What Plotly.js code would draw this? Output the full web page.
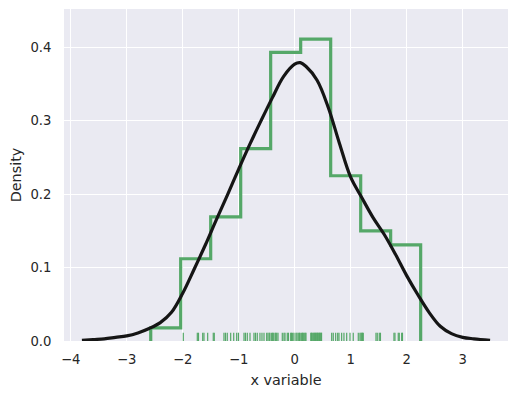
<!DOCTYPE html>
<html>
<head>
<meta charset="utf-8">
<script src="https://cdn.plot.ly/plotly-3.0.1.min.js"></script>
<style>html,body{margin:0;padding:0;background:#fff;}#chart{width:518px;height:396px;}</style>
</head>
<body>
<div id="chart"></div>
<script>
// Histogram (step) bin edges and densities
const binEdges = [-2.571, -2.036, -1.500, -0.964, -0.429, 0.107, 0.643, 1.179, 1.714, 2.250];
const binDensity = [0.018, 0.112, 0.169, 0.262, 0.393, 0.411, 0.225, 0.150, 0.131];

// KDE curve
const kdeX = [-3.80, -3.60, -3.40, -3.20, -3.00, -2.80, -2.60, -2.40, -2.20, -2.00, -1.80, -1.60, -1.40, -1.20, -1.00, -0.80, -0.60, -0.40, -0.20, 0.00, 0.10, 0.20, 0.40, 0.60, 0.80, 1.00, 1.20, 1.40, 1.60, 1.80, 2.00, 2.20, 2.40, 2.60, 2.80, 3.00, 3.20, 3.49];
const kdeY = [0.001, 0.002, 0.003, 0.005, 0.007, 0.011, 0.017, 0.025, 0.039, 0.065, 0.097, 0.130, 0.165, 0.199, 0.234, 0.268, 0.300, 0.331, 0.360, 0.377, 0.379, 0.374, 0.355, 0.318, 0.269, 0.223, 0.195, 0.168, 0.145, 0.118, 0.089, 0.063, 0.039, 0.020, 0.010, 0.005, 0.003, 0.001];

// Rug observations
const rugValues = [
  -2.571,
  -1.989, -1.739, -1.718, -1.643, -1.620, -1.554,
  -1.454, -1.436, -1.263, -1.236, -1.204, -1.143, -1.089, -1.036, -1.004,
  -0.905, -0.879, -0.846, -0.798, -0.727, -0.700, -0.668, -0.620, -0.584, -0.548, -0.500, -0.477, -0.454, -0.441,
  -0.411, -0.393, -0.382, -0.352, -0.339, -0.321, -0.298, -0.221, -0.191, -0.173, -0.132, -0.111, -0.071, -0.057, -0.036, -0.013, 0.023, 0.041, 0.064, 0.086, 0.098,
  0.125, 0.139, 0.154, 0.171, 0.189, 0.202, 0.288, 0.300, 0.314, 0.332, 0.345, 0.357, 0.370, 0.382, 0.395, 0.407, 0.420, 0.432, 0.445, 0.457, 0.470, 0.480,
  0.661, 0.689, 0.732, 0.768, 0.791, 0.839, 0.880, 0.929, 0.988, 1.046, 1.136, 1.166,
  1.184, 1.198, 1.211, 1.225, 1.452, 1.475, 1.511, 1.532,
  1.773, 1.791, 1.850, 1.868, 1.911, 1.925, 2.250
];

const xTicks = [-4, -3, -2, -1, 0, 1, 2, 3];
const yTicks = [0.0, 0.1, 0.2, 0.3, 0.4];

// build step outline
const stepX = [binEdges[0]], stepY = [0];
for (let i = 0; i < binDensity.length; i++) {
  stepX.push(binEdges[i], binEdges[i + 1]);
  stepY.push(binDensity[i], binDensity[i]);
}
stepX.push(binEdges[binEdges.length - 1]); stepY.push(0);

// rug segments
const rugX = [], rugY = [];
rugValues.forEach(v => { rugX.push(v, v, null); rugY.push(0, 0.025, null); });

const green = '#55a868';
const traces = [
  {x: stepX, y: stepY, type: 'scatter', mode: 'lines', line: {color: green, width: 3.2}, hoverinfo: 'skip'},
  {x: kdeX, y: kdeY, type: 'scatter', mode: 'lines', line: {color: '#151515', width: 3.2, shape: 'spline', smoothing: 1}, hoverinfo: 'skip'},
  {x: rugX, y: rugY, type: 'scatter', mode: 'lines', yaxis: 'y2', line: {color: green, width: 1.2}, hoverinfo: 'skip'}
];

const minus = s => s.replace('-', '\u2212');
const font = {family: 'DejaVu Sans, sans-serif', color: '#262626'};
const layout = {
  width: 518, height: 396,
  margin: {l: 64, r: 10, t: 9, b: 55},
  paper_bgcolor: '#ffffff', plot_bgcolor: '#eaeaf2',
  showlegend: false,
  font: Object.assign({size: 13}, font),
  xaxis: {
    range: [-4.12, 3.81], tickvals: xTicks, ticktext: xTicks.map(v => minus(String(v))),
    showgrid: true, gridcolor: '#ffffff', gridwidth: 1.2, zeroline: false, showline: false,
    ticks: 'outside', ticklen: 6, tickcolor: 'rgba(0,0,0,0)', tickfont: Object.assign({size: 13.2}, font),
    automargin: false,
    title: {text: 'x variable', font: Object.assign({size: 14.4}, font), standoff: 9}
  },
  yaxis: {
    range: [0, 0.452], tickvals: yTicks, ticktext: yTicks.map(v => v.toFixed(1)),
    showgrid: true, gridcolor: '#ffffff', gridwidth: 1.2, zeroline: false, showline: false,
    ticks: 'outside', ticklen: 9, tickcolor: 'rgba(0,0,0,0)', tickfont: Object.assign({size: 13.2}, font),
    automargin: false,
    title: {text: 'Density', font: Object.assign({size: 14.4}, font), standoff: 5}
  },
  yaxis2: {overlaying: 'y', range: [0, 1], visible: false, fixedrange: true}
};

Plotly.newPlot('chart', traces, layout, {staticPlot: true, displayModeBar: false});
</script>
</body>
</html>
